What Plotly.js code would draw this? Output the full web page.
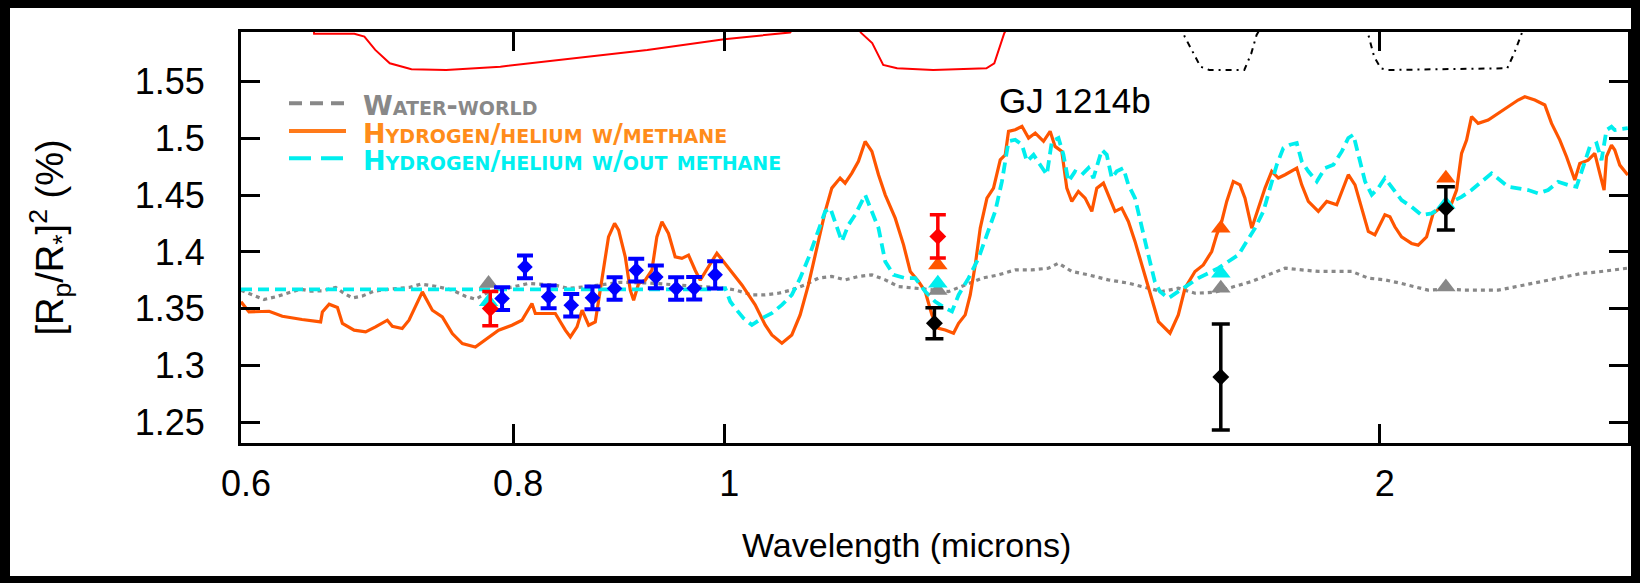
<!DOCTYPE html>
<html><head><meta charset="utf-8">
<script src="https://cdn.plot.ly/plotly-3.0.1.min.js"></script>
<style>html,body{margin:0;padding:0;background:#000;} #chart{width:1640px;height:583px;}</style>
</head><body><div id="chart"></div>
<script>
// ---- data (wavelength in microns, transit depth [Rp/R*]^2 in %) ----
const waterWorld = [[0.600,1.3663],[0.6083,1.3619],[0.6148,1.3581],[0.6224,1.3604],[0.6323,1.3648],[0.6390,1.3672],[0.6458,1.3654],[0.6539,1.3657],[0.6632,1.3687],[0.6691,1.3634],[0.6750,1.3595],[0.6822,1.3612],[0.6906,1.3654],[0.7020,1.3672],[0.7166,1.3687],[0.7255,1.3716],[0.7370,1.3698],[0.7502,1.3663],[0.7606,1.3610],[0.7687,1.3583],[0.7793,1.3645],[0.7935,1.3680],[0.8131,1.3722],[0.8365,1.3707],[0.8481,1.3678],[0.8680,1.3698],[0.8959,1.3733],[0.9248,1.3725],[0.9546,1.3707],[0.9801,1.3689],[1.0011,1.3680],[1.0117,1.3665],[1.0297,1.3621],[1.0443,1.3621],[1.0591,1.3636],[1.0741,1.3665],[1.0894,1.3710],[1.1047,1.3769],[1.1205,1.3784],[1.1364,1.3754],[1.1525,1.3784],[1.1690,1.3798],[1.1856,1.3754],[1.2022,1.3695],[1.2194,1.3680],[1.2368,1.3672],[1.2678,1.3651],[1.2902,1.3710],[1.3133,1.3769],[1.3365,1.3798],[1.3603,1.3842],[1.3845,1.3842],[1.4089,1.3857],[1.4239,1.3901],[1.4441,1.3828],[1.4697,1.3798],[1.5010,1.3754],[1.5331,1.3725],[1.5658,1.3680],[1.5880,1.3651],[1.6162,1.3680],[1.6450,1.3636],[1.6800,1.3645],[1.7159,1.3695],[1.7467,1.3740],[1.7774,1.3798],[1.8093,1.3857],[1.8415,1.3842],[1.8741,1.3828],[1.9075,1.3828],[1.9415,1.3828],[1.9758,1.3769],[2.0107,1.3754],[2.0465,1.3722],[2.0757,1.3692],[2.1049,1.3663],[2.1461,1.3672],[2.1882,1.3663],[2.2271,1.3663],[2.2665,1.3663],[2.3068,1.3692],[2.3480,1.3722],[2.3895,1.3751],[2.4321,1.3780],[2.4752,1.3810],[2.5191,1.3824],[2.5639,1.3839],[2.5994,1.3857]];

const withMethane = [[0.600,1.356],[0.6051,1.3471],[0.6181,1.3477],[0.6268,1.3433],[0.6400,1.3404],[0.6527,1.3383],[0.6539,1.3471],[0.6586,1.3539],[0.6644,1.3510],[0.6679,1.3369],[0.6762,1.3310],[0.6845,1.3295],[0.6917,1.3339],[0.7004,1.3398],[0.7041,1.3345],[0.7115,1.3325],[0.7166,1.3398],[0.7268,1.3648],[0.7345,1.3486],[0.7423,1.3427],[0.7502,1.3280],[0.7582,1.3192],[0.7687,1.3162],[0.7795,1.3250],[0.7878,1.3310],[0.7990,1.3354],[0.8075,1.3398],[0.8161,1.3545],[0.8190,1.3457],[0.8365,1.3457],[0.8454,1.3310],[0.8499,1.3250],[0.8559,1.3339],[0.8605,1.3486],[0.8665,1.3354],[0.8726,1.3383],[0.8788,1.3780],[0.8849,1.4133],[0.8906,1.4252],[0.8944,1.4192],[0.9007,1.3957],[0.9055,1.3663],[0.9087,1.3574],[0.9135,1.3722],[0.9199,1.3751],[0.9264,1.3839],[0.9313,1.4133],[0.9363,1.4266],[0.9428,1.4163],[0.9495,1.3957],[0.9563,1.3943],[0.9630,1.3972],[0.9698,1.3839],[0.9750,1.3751],[0.9923,1.3989],[1.0045,1.3857],[1.0189,1.3709],[1.0333,1.3533],[1.0443,1.3356],[1.0517,1.3268],[1.0629,1.3195],[1.0741,1.3268],[1.0836,1.3445],[1.0931,1.3709],[1.1028,1.4034],[1.1127,1.4358],[1.1205,1.4563],[1.1304,1.4652],[1.1364,1.4607],[1.1445,1.4696],[1.1525,1.4799],[1.1607,1.4975],[1.1690,1.4887],[1.1772,1.4681],[1.1856,1.4504],[1.1982,1.4298],[1.2088,1.4063],[1.2174,1.3828],[1.2281,1.3740],[1.2368,1.3651],[1.2456,1.3445],[1.2544,1.3327],[1.2633,1.3312],[1.2744,1.3283],[1.2812,1.3371],[1.2902,1.3445],[1.2971,1.3621],[1.3040,1.3886],[1.3109,1.4210],[1.3202,1.4475],[1.3294,1.4563],[1.3389,1.4813],[1.3460,1.4857],[1.3507,1.5064],[1.3603,1.5078],[1.3700,1.5108],[1.3796,1.5005],[1.3894,1.5049],[1.4016,1.4976],[1.4114,1.5064],[1.4188,1.4931],[1.4289,1.4887],[1.4365,1.4563],[1.4441,1.4446],[1.4542,1.4534],[1.4646,1.4475],[1.4750,1.4358],[1.4828,1.4563],[1.4932,1.4607],[1.5010,1.4504],[1.5117,1.4358],[1.5224,1.4387],[1.5331,1.4269],[1.5439,1.4093],[1.5603,1.3798],[1.5714,1.3592],[1.5826,1.3386],[1.6021,1.3283],[1.6162,1.3445],[1.6277,1.3680],[1.6450,1.3828],[1.6595,1.3886],[1.6743,1.4004],[1.6832,1.4151],[1.6921,1.4269],[1.7011,1.4446],[1.7130,1.4622],[1.7252,1.4592],[1.7343,1.4475],[1.7467,1.4210],[1.7589,1.4387],[1.7714,1.4563],[1.7840,1.4711],[1.7965,1.4652],[1.8093,1.4681],[1.8318,1.4740],[1.8415,1.4592],[1.8544,1.4446],[1.8741,1.4358],[1.8908,1.4446],[1.9109,1.4416],[1.9345,1.4681],[1.9482,1.4592],[1.9621,1.4387],[1.9758,1.4181],[1.9896,1.4151],[2.0107,1.4328],[2.0214,1.4310],[2.0321,1.4222],[2.0465,1.4133],[2.0683,1.4075],[2.0828,1.4060],[2.1013,1.4133],[2.1160,1.4340],[2.1349,1.4398],[2.1576,1.4428],[2.1690,1.4546],[2.1805,1.4870],[2.1921,1.4987],[2.2037,1.5193],[2.2191,1.5134],[2.2427,1.5164],[2.2665,1.5223],[2.2906,1.5281],[2.3149,1.5340],[2.3313,1.5369],[2.3561,1.5340],[2.3812,1.5296],[2.3981,1.5134],[2.4192,1.4987],[2.4364,1.4840],[2.4578,1.4634],[2.4708,1.4781],[2.4926,1.4810],[2.5103,1.4870],[2.5236,1.4693],[2.5351,1.4546],[2.5415,1.4840],[2.5550,1.4943],[2.5639,1.4899],[2.5775,1.4766],[2.5994,1.4678]];

const withoutMethane = [[0.600,1.367],[0.800,1.367],[0.990,1.367],[1.0011,1.3680],[1.0064,1.3563],[1.0117,1.3504],[1.0206,1.3416],[1.0297,1.3356],[1.0407,1.3416],[1.0517,1.3460],[1.0629,1.3533],[1.0741,1.3621],[1.0836,1.3769],[1.0931,1.3945],[1.1028,1.4151],[1.1127,1.4358],[1.1187,1.4387],[1.1245,1.4269],[1.1325,1.4093],[1.1404,1.4239],[1.1485,1.4328],[1.1607,1.4504],[1.1690,1.4358],[1.1772,1.4210],[1.1856,1.3916],[1.1961,1.3798],[1.2110,1.3769],[1.2238,1.3769],[1.2368,1.3651],[1.2498,1.3563],[1.2633,1.3504],[1.2723,1.3475],[1.2812,1.3621],[1.2948,1.3769],[1.3085,1.3945],[1.3202,1.4151],[1.3318,1.4358],[1.3413,1.4622],[1.3507,1.4976],[1.3603,1.4990],[1.3700,1.4946],[1.3772,1.4799],[1.3869,1.4857],[1.3965,1.4769],[1.4065,1.4681],[1.4140,1.4976],[1.4239,1.5005],[1.4314,1.4857],[1.4390,1.4622],[1.4491,1.4711],[1.4594,1.4681],[1.4697,1.4740],[1.4775,1.4652],[1.4907,1.4901],[1.4985,1.4857],[1.5064,1.4652],[1.5144,1.4711],[1.5250,1.4740],[1.5331,1.4592],[1.5439,1.4475],[1.5549,1.4210],[1.5658,1.3974],[1.5765,1.3740],[1.5852,1.3651],[1.5992,1.3592],[1.6162,1.3651],[1.6334,1.3710],[1.6508,1.3769],[1.6683,1.3813],[1.6861,1.3857],[1.7041,1.3916],[1.7222,1.3974],[1.7375,1.4093],[1.7528,1.4210],[1.7683,1.4358],[1.7808,1.4563],[1.7935,1.4769],[1.8060,1.4916],[1.8189,1.4946],[1.8318,1.4961],[1.8415,1.4799],[1.8544,1.4711],[1.8711,1.4622],[1.8876,1.4740],[1.9042,1.4769],[1.9212,1.4887],[1.9345,1.5005],[1.9448,1.5034],[1.9551,1.4857],[1.9690,1.4622],[1.9830,1.4504],[1.9966,1.4563],[2.0107,1.4652],[2.0289,1.4546],[2.0465,1.4457],[2.0683,1.4398],[2.0904,1.4325],[2.1126,1.4340],[2.1349,1.4398],[2.1576,1.4442],[2.1805,1.4486],[2.2037,1.4546],[2.2271,1.4619],[2.2507,1.4693],[2.2706,1.4634],[2.2906,1.4575],[2.3149,1.4561],[2.3395,1.4546],[2.3644,1.4516],[2.3895,1.4546],[2.4149,1.4619],[2.4406,1.4590],[2.4623,1.4575],[2.4796,1.4751],[2.4972,1.4928],[2.5150,1.4958],[2.5282,1.4810],[2.5415,1.5075],[2.5550,1.5104],[2.5639,1.5075],[2.5994,1.5093]];

// filter transmission profiles (drawn at the top of the panel)
const redFilterWl    = [0.6470,0.6482,0.6764,0.6836,0.6915,0.7022,0.7185,0.7453,0.7893,0.8409,0.9219,1.0000,1.0722,1.0900,null,1.1400,1.1558,1.1694,1.1831,1.2006,1.2472,1.3194,1.3305,1.3446,1.3600];
const redFilterDepth = [1.6100,1.5925,1.5925,1.5899,1.5782,1.5664,1.5611,1.5605,1.5634,1.5693,1.5782,1.5876,1.5936,1.6100,null,1.6100,1.5932,1.5843,1.5649,1.5620,1.5605,1.5620,1.5664,1.5929,1.6100];
const blackFilterWl    = [1.6191,1.6272,1.6424,1.6546,1.6700,1.7330,1.7459,1.7557,1.7660,null,1.9690,1.9769,1.9880,2.0022,2.0171,2.2884,2.3052,2.3182,2.3313];
const blackFilterDepth = [1.6000,1.5899,1.5752,1.5634,1.5605,1.5605,1.5752,1.5914,1.6000,null,1.6000,1.5899,1.5722,1.5620,1.5605,1.5620,1.5752,1.5869,1.6000];

// band-integrated model values
const waterBandWl = [0.7795,1.2534,1.6905,2.1446];
const waterBandDepth = [1.3722,1.3660,1.3680,1.3692];
const noMethBandWl = [0.7795,1.2534,1.6905,2.1446];
const noMethBandDepth = [1.3560,1.3725,1.3813,1.4420];
const methBandWl = [1.2534,1.6905,2.1446];
const methBandDepth = [1.3886,1.4210,1.4649];

// observations
const blueWl = [0.7907,0.8101,0.8306,0.8507,0.8700,0.8906,0.9112,0.9303,0.9505,0.9688,0.9905];
const blueDepth = [1.3589,1.3868,1.3604,1.3530,1.3595,1.3678,1.3839,1.3780,1.3678,1.3680,1.3798];
const blueErr = [0.010,0.010,0.010,0.010,0.010,0.010,0.010,0.010,0.010,0.010,0.012];
const redWl = [0.7809,1.2534];
const redDepth = [1.3501,1.4137];
const redErr = [0.0151,0.0191];
const blackWl = [1.2489,1.6905,2.1446];
const blackDepth = [1.3371,1.2897,1.4384];
const blackErr = [0.0137,0.0468,0.0191];

const xTicks = [0.6,0.8,1,2];
const xTickText = ['0.6','0.8','1','2'];
const yTicks = [1.25,1.3,1.35,1.4,1.45,1.5,1.55];
const yTickText = ['1.25','1.3','1.35','1.4','1.45','1.5','1.55'];

const legendLabels = ['Water-world','Hydrogen/helium w/methane','Hydrogen/helium w/out methane'];

// ---- styling ----
const cOrange = '#FF5500', cCyan = '#00EEEE', cGray = '#888888';
const fam = 'Liberation Sans, Arial, Helvetica, sans-serif';
const col = (a,i)=>a.map(p=>p[i]);

const traces = [
  {x:col(waterWorld,0), y:col(waterWorld,1), mode:'lines', name:legendLabels[0], line:{color:cGray,width:3.2,dash:'4px,4px'}},
  {x:col(withMethane,0), y:col(withMethane,1), mode:'lines', name:legendLabels[1], line:{color:cOrange,width:3.2}},
  {x:col(withoutMethane,0), y:col(withoutMethane,1), mode:'lines', name:legendLabels[2], line:{color:cCyan,width:3.8,dash:'11px,6px'}},
  {x:redFilterWl, y:redFilterDepth, mode:'lines', name:'filter', line:{color:'#FF0000',width:2}, connectgaps:false},
  {x:blackFilterWl, y:blackFilterDepth, mode:'lines', name:'filter', line:{color:'#000000',width:2,dash:'6px,5px,2px,5px'}, connectgaps:false},
  {x:waterBandWl, y:waterBandDepth, mode:'markers', name:'water band', marker:{symbol:'triangle-up',size:17,color:cGray}},
  {x:noMethBandWl, y:noMethBandDepth, mode:'markers', name:'no-methane band', marker:{symbol:'triangle-up',size:17,color:cCyan}},
  {x:methBandWl, y:methBandDepth, mode:'markers', name:'methane band', marker:{symbol:'triangle-up',size:17,color:cOrange}},
  {x:blueWl, y:blueDepth, mode:'markers', name:'VLT', marker:{symbol:'diamond',size:12,color:'#0000FF'},
   error_y:{type:'data',array:blueErr,visible:true,color:'#0000FF',thickness:4,width:8}},
  {x:redWl, y:redDepth, mode:'markers', name:'red', marker:{symbol:'diamond',size:13,color:'#FF0000'},
   error_y:{type:'data',array:redErr,visible:true,color:'#FF0000',thickness:3.5,width:8}},
  {x:blackWl, y:blackDepth, mode:'markers', name:'black', marker:{symbol:'diamond',size:13,color:'#000000'},
   error_y:{type:'data',array:blackErr,visible:true,color:'#000000',thickness:3.5,width:9}}
];

// plot area in pixels: x 241..1628, y 32..443
const L=241,R=1628,T=32,B=443;
const px=(x)=>(x-L)/(R-L), py=(y)=>(B-y)/(B-T);

const legendColors = [cGray,'#FF8C1A','#00F0F0'];
const legendLineColors = [cGray,'#FF7A1A',cCyan];
const legendDash = ['13px,8px','solid','22px,10px'];
const legendY = [103.3,131,158.3];

const shapes = [
  {type:'rect',xref:'paper',yref:'paper',x0:px(10),x1:px(1631),y0:py(576),y1:py(8),fillcolor:'#FFFFFF',line:{width:0},layer:'below'}
];
legendY.forEach((y,i)=>shapes.push({type:'line',xref:'paper',yref:'paper',x0:px(289),x1:px(346),y0:py(y),y1:py(y),
  line:{color:legendLineColors[i],width:4,dash:legendDash[i]}}));

const annotations = legendLabels.map((t,i)=>({text:t,xref:'paper',yref:'paper',x:px(361),y:py(legendY[i]+2),xanchor:'left',yanchor:'middle',showarrow:false,
  font:{family:'DejaVu Sans, sans-serif',size:27,weight:'bold',color:legendColors[i],variant:'small-caps'}}));
annotations.push({text:'GJ 1214b',xref:'paper',yref:'paper',x:px(1075),y:py(100),xanchor:'center',yanchor:'middle',showarrow:false,font:{family:fam,size:35,color:'#000'}});
annotations.push({text:'Wavelength (microns)',xref:'paper',yref:'paper',x:px(906),y:py(545),xanchor:'center',yanchor:'middle',showarrow:false,font:{family:fam,size:34,color:'#000'}});

const axisCommon = {showgrid:false,zeroline:false,showline:true,linecolor:'#000',linewidth:3,mirror:'ticks',ticks:'inside',ticklen:19,tickwidth:3,tickcolor:'#000',
  tickfont:{family:fam,size:36,color:'#000'}};

const layout = {
  width:1640,height:583,
  margin:{l:L,r:1640-R,t:T,b:583-B,pad:0},
  paper_bgcolor:'#000000', plot_bgcolor:'rgba(0,0,0,0)',
  showlegend:false,
  font:{family:fam,color:'#000'},
  xaxis:Object.assign({},axisCommon,{type:'log',range:[Math.log10(0.6),Math.log10(2.6)],tickmode:'array',tickvals:xTicks,ticktext:xTickText,ticklabelshift:5,ticklabelstandoff:7}),
  yaxis:Object.assign({},axisCommon,{range:[1.2315,1.594],tickmode:'array',tickvals:yTicks,ticktext:yTickText,ticklabelstandoff:26,
    title:{text:'[R<sub>p</sub>/R<sub>*</sub>]<sup>2</sup> (%)',font:{family:fam,size:38,color:'#000'},standoff:60}}),
  shapes:shapes,
  annotations:annotations
};

Plotly.newPlot('chart',traces,layout,{displayModeBar:false,staticPlot:true});
</script></body></html>
